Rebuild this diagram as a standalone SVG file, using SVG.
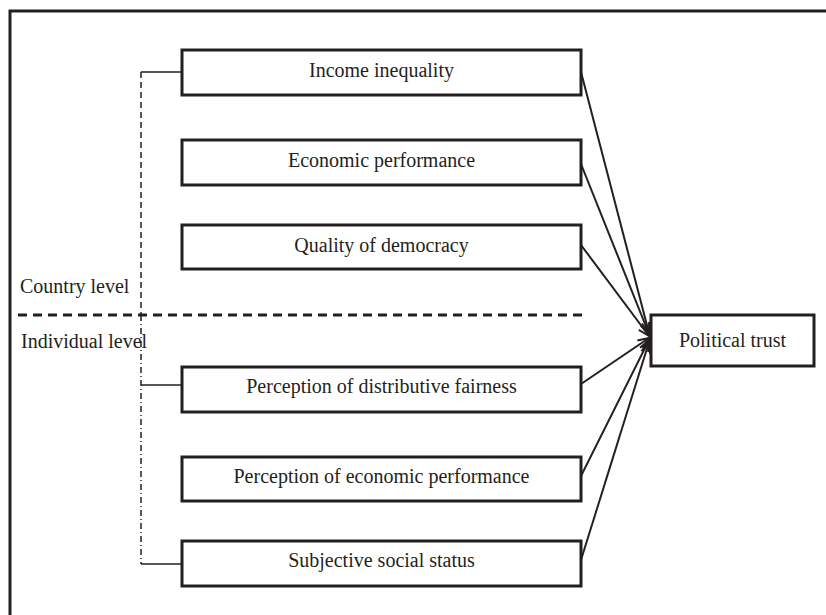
<svg xmlns="http://www.w3.org/2000/svg" width="826" height="615" viewBox="0 0 826 615">
<defs>
<style>
.box{fill:#fff;stroke:#231f20;stroke-width:3}
.lbl{font-family:"Liberation Serif","Times New Roman",serif;font-size:20px;fill:#231f20}
.c{text-anchor:middle}
.arr{fill:none;stroke:#231f20;stroke-width:2;marker-end:url(#ah)}
.thin{fill:none;stroke:#231f20;stroke-width:1.5}
</style>
<marker id="ah" markerUnits="userSpaceOnUse" markerWidth="14" markerHeight="12" refX="12" refY="6" orient="auto">
<path d="M1,1.5 L12,6 L1,10.5" fill="none" stroke="#231f20" stroke-width="2"/>
</marker>
</defs>
<rect width="826" height="615" fill="#fff"/>
<path d="M10,615 V11 H826" fill="none" stroke="#231f20" stroke-width="3"/>
<line x1="18" y1="315" x2="582" y2="315" stroke="#231f20" stroke-width="3" stroke-dasharray="9,6"/>
<text class="lbl" x="20" y="293">Country level</text>
<text class="lbl" x="21" y="348">Individual level</text>
<g id="connectors">
<line class="thin" x1="141" y1="72" x2="141" y2="315" stroke-dasharray="6,4"/>
<line class="thin" x1="141" y1="315" x2="141" y2="564" stroke-dasharray="6,3,1,3"/>
<line class="thin" x1="141" y1="72" x2="182" y2="72"/>
<line class="thin" x1="141" y1="385" x2="182" y2="385"/>
<line class="thin" x1="141" y1="564" x2="182" y2="564"/>
<line class="arr" x1="581" y1="72" x2="649" y2="333"/>
<line class="arr" x1="581" y1="164" x2="649" y2="334"/>
<line class="arr" x1="581" y1="245" x2="649" y2="336"/>
<line class="arr" x1="581" y1="384" x2="649" y2="338"/>
<line class="arr" x1="581" y1="476" x2="649" y2="340"/>
<line class="arr" x1="581" y1="560" x2="649" y2="342"/>
</g>
<g id="income-inequality">
<rect class="box" x="182" y="50" width="399" height="45"/>
<text class="lbl c" x="381.5" y="77">Income inequality</text>
</g>
<g id="economic-performance">
<rect class="box" x="182" y="140" width="399" height="45"/>
<text class="lbl c" x="381.5" y="167">Economic performance</text>
</g>
<g id="quality-of-democracy">
<rect class="box" x="182" y="225" width="399" height="44"/>
<text class="lbl c" x="381.5" y="252">Quality of democracy</text>
</g>
<g id="distributive-fairness">
<rect class="box" x="182" y="367" width="399" height="45"/>
<text class="lbl c" x="381.5" y="393">Perception of distributive fairness</text>
</g>
<g id="perceived-economic-performance">
<rect class="box" x="182" y="457" width="399" height="44"/>
<text class="lbl c" x="381.5" y="483">Perception of economic performance</text>
</g>
<g id="subjective-social-status">
<rect class="box" x="182" y="541" width="399" height="45"/>
<text class="lbl c" x="381.5" y="567">Subjective social status</text>
</g>
<g id="political-trust">
<rect class="box" x="651" y="315" width="163" height="51"/>
<text class="lbl c" x="732.5" y="347">Political trust</text>
</g>
</svg>
